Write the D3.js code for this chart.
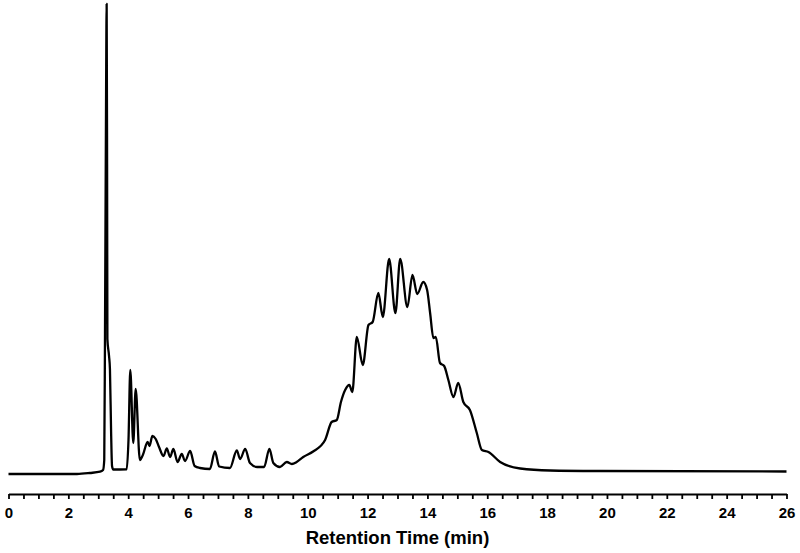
<!DOCTYPE html>
<html>
<head>
<meta charset="utf-8">
<script src="https://cdn.jsdelivr.net/npm/d3@7"></script>
<style>
  html, body { margin: 0; padding: 0; background: #fff; }
  svg { display: block; }
</style>
</head>
<body>
<svg id="chart" width="800" height="553"></svg>
<script>
// Retention time (min)
const retentionTime = [
  0, 2.29, 2.72, 3.06, 3.16, 3.20, 3.225, 3.26, 3.28, 3.295, 3.305, 3.36, 3.39, 3.43, 3.46, 3.50,
  3.95, 4.01, 4.07, 4.17, 4.25, 4.39, 4.49, 4.65, 4.71, 4.81, 4.92, 5.03, 5.18, 5.29, 5.40,
  5.51, 5.65, 5.79, 5.90, 6.07, 6.22, 6.40, 6.73, 6.90, 7.04, 7.40, 7.63, 7.74, 7.91, 8.07,
  8.31, 8.54, 8.72, 8.85, 9.07, 9.30, 9.47, 9.63, 9.85, 10.18, 10.58, 10.80, 10.97, 11.11,
  11.25, 11.39, 11.49, 11.64, 11.84, 12.03, 12.17, 12.36, 12.51, 12.72, 12.93, 13.09, 13.33,
  13.50, 13.66, 13.86, 13.99, 14.09, 14.20, 14.28, 14.42, 14.56, 14.70, 14.87, 15.03, 15.20,
  15.42, 15.65, 15.82, 16.04, 16.43, 17.10, 18.10, 19.77, 26
];
// Detector signal (arbitrary units)
const signal = [
  0, 0, 1, 2.3, 4, 14, 141, 374, 470, 310, 135, 118, 105, 40, 8, 4.5,
  4.7, 34, 104, 31, 85, 14, 19, 32, 28, 38, 35, 27, 18, 25.5, 17,
  25, 12, 20, 13, 23, 8, 6, 5, 22.5, 7.5, 6, 23.5, 15, 25, 11,
  7, 7, 25, 11, 7, 12, 10, 12, 17, 22.5, 34, 52, 54, 72,
  84, 89, 82, 137, 109, 149, 152, 181, 157, 215, 161, 215, 167,
  199, 180, 192, 184, 161, 136, 137, 111, 108, 94, 77, 91, 72,
  64, 41, 24, 22, 12, 5.5, 3.5, 3, 2.5
];
const xTicks = d3.range(0, 26.01, 0.5);
const xLabels = [0, 2, 4, 6, 8, 10, 12, 14, 16, 18, 20, 22, 24, 26];
const xTitle = "Retention Time (min)";

const data = retentionTime.map((t, i) => ({ t, v: signal[i] }));

const svg = d3.select("#chart");
const x = d3.scaleLinear().domain([0, 26]).range([8.5, 786.5]);
const y = d3.scaleLinear().domain([0, 470]).range([474, 4]);

const line = d3.line()
  .x(d => x(d.t))
  .y(d => y(d.v))
  .curve(d3.curveMonotoneX);

svg.append("path")
  .datum(data)
  .attr("fill", "none")
  .attr("stroke", "#000")
  .attr("stroke-width", 2.3)
  .attr("stroke-linejoin", "round")
  .attr("d", line);

const axis = d3.axisBottom(x)
  .tickValues(xTicks)
  .tickSize(5)
  .tickSizeOuter(0)
  .tickFormat(d => xLabels.includes(d) ? d3.format("d")(d) : "");

const gx = svg.append("g")
  .attr("transform", "translate(0,494)")
  .call(axis);

gx.select(".domain").attr("stroke", "#000").attr("stroke-width", 2);
gx.selectAll(".tick line").attr("stroke", "#000").attr("stroke-width", 1.8);
gx.selectAll(".tick text")
  .attr("y", 24)
  .attr("dy", null)
  .attr("fill", "#000")
  .style("font-family", "Liberation Sans, Arial, sans-serif")
  .style("font-weight", "bold")
  .style("font-size", "15px");

svg.append("text")
  .attr("x", 397.5)
  .attr("y", 544)
  .attr("text-anchor", "middle")
  .style("font-family", "Liberation Sans, Arial, sans-serif")
  .style("font-weight", "bold")
  .style("font-size", "18.5px")
  .attr("fill", "#000")
  .text(xTitle);
</script>
</body>
</html>
